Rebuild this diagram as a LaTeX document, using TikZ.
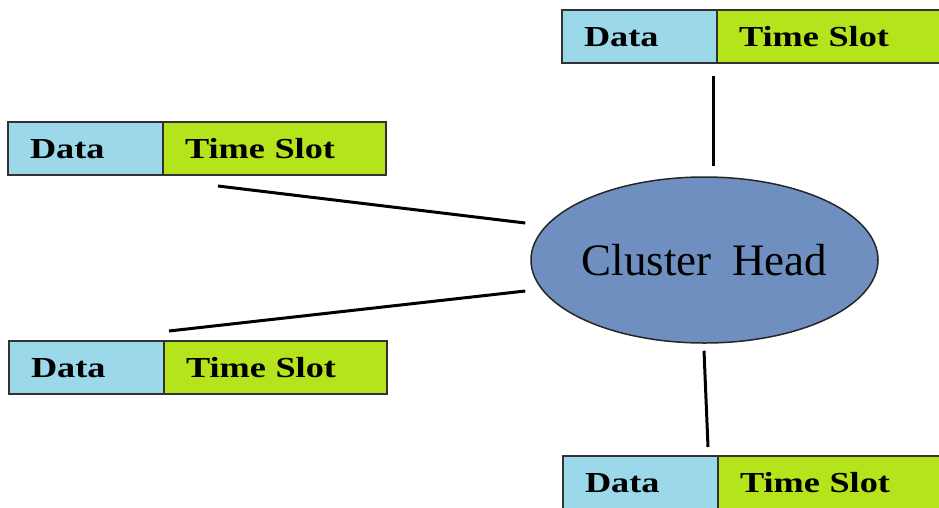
\documentclass[tikz,border=0pt]{standalone}
\usepackage{fontspec}
\setmainfont{Liberation Serif}
\newfontfamily\fieldfont[FakeStretch=1.25]{Liberation Serif}
\usetikzlibrary{positioning,calc,shapes.geometric}

\definecolor{datablue}{RGB}{155,216,234}
\definecolor{slotgreen}{RGB}{181,227,28}
\definecolor{headblue}{RGB}{110,143,191}
\definecolor{edgegray}{RGB}{50,50,50}

\begin{document}
\begin{tikzpicture} [x=1pt,y=-1pt]
  \tikzstyle{field}=[draw=edgegray,line width=2pt,outer sep=0pt,minimum height=53pt,inner xsep=22pt,inner ysep=0pt,text height=19.5pt,text depth=0pt,align=left,font=\fieldfont\bfseries\fontsize{29}{29}\selectfont]
  \tikzstyle{datafield}=[field,fill=datablue,text width=111pt,minimum width=155pt]
  \tikzstyle{slotfield}=[field,fill=slotgreen,text width=179pt,minimum width=223pt]
  \tikzstyle{link}=[draw=black,line width=3pt]

  \useasboundingbox (0,0) rectangle (939,507);

  \node[datafield, anchor=north west] (tr-data) at (562,10) {Data};
  \node[slotfield, right=0pt of tr-data] (tr-slot) {Time Slot};
  \node[datafield, anchor=north west] (ul-data) at (8,122) {Data};
  \node[slotfield, right=0pt of ul-data] (ul-slot) {Time Slot};
  \node[datafield, anchor=north west] (ll-data) at (9,341) {Data};
  \node[slotfield, right=0pt of ll-data] (ll-slot) {Time Slot};
  \node[datafield, anchor=north west] (br-data) at (563,456) {Data};
  \node[slotfield, right=0pt of br-data] (br-slot) {Time Slot};

  \node[ellipse, draw=black!85, line width=1.5pt, fill=headblue, minimum width=347pt, minimum height=166pt, inner sep=0pt, font=\fontsize{45}{45}\selectfont] (head) at (704.5,260) {Cluster\hspace{0.45em}Head};

  \draw[link] ($(tr-data.south east)+(-4,13)$) -- ($(head.north)+(8.5,-10)$);
  \draw[link] ($(ul-slot.south west)+(55,11)$) -- ($(head.west)+(-5,-37)$);
  \draw[link] ($(ll-slot.north west)+(5,-10)$) -- ($(head.west)+(-5,31)$);
  \draw[link] ($(head.south)+(-0.5,7)$) -- ($(br-data.north east)+(-10,-9)$);

\end{tikzpicture}
\end{document}
